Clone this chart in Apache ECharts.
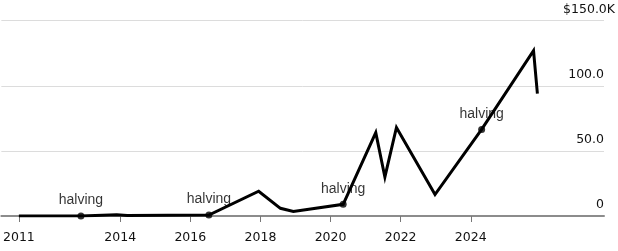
<!DOCTYPE html>
<html>
<head>
<meta charset="utf-8">
<script src="https://cdn.jsdelivr.net/npm/echarts@6/dist/echarts.min.js"></script>
<style>
html,body{margin:0;padding:0;background:#fff;}
#chart{width:618px;height:251px;}
</style>
</head>
<body>
<div id="chart"></div>
<script>
// Price line (years as decimals, values in $K)
const priceYears  = [2011.11, 2012.88, 2013.9, 2014.2, 2016.53, 2017.95, 2018.57, 2018.94, 2020.36, 2021.29, 2021.55, 2021.88, 2022.98, 2024.31, 2025.79, 2025.90];
const priceValues = [0.0,     0.0,     1.0,    0.3,    0.7,     19.0,    5.9,     3.4,     9.0,     64.0,    30.0,    68.0,    16.5,    66.5,    127.0,   94.0];

// Halving events
const halvingYears  = [2012.88, 2016.53, 2020.36, 2024.31];
const halvingValues = [0.0,     0.7,     9.0,     66.5];
const halvingLabel  = 'halving';

// Axis ticks
const xTickValues = [2011.11, 2014, 2016, 2018, 2020, 2022, 2024];
const xTickLabels = ['2011', '2014', '2016', '2018', '2020', '2022', '2024'];
const yTickValues = [0, 50, 100, 150];
const yTickLabels = ['0', '50.0', '100.0', '$150.0K'];

const chart = echarts.init(document.getElementById('chart'), null, {renderer: 'canvas'});
const FONT = '"DejaVu Sans", sans-serif';

chart.setOption({
  animation: false,
  backgroundColor: '#fff',
  grid: {left: 0, right: 13, top: 20.7, bottom: 35},
  xAxis: {
    type: 'value',
    min: 2010.61,
    max: 2027.8,
    splitLine: {show: false},
    axisLine: {show: true, lineStyle: {color: '#8c8c8c', width: 2}},
    axisTick: {show: true, customValues: xTickValues, length: 6, lineStyle: {color: '#777', width: 1}},
    axisLabel: {
      customValues: xTickValues,
      margin: 15,
      color: '#111',
      fontFamily: FONT,
      fontSize: 12.5,
      formatter: function (v) {
        const i = xTickValues.findIndex(t => Math.abs(t - v) < 1e-6);
        return i >= 0 ? xTickLabels[i] : '';
      }
    }
  },
  yAxis: {
    type: 'value',
    position: 'right',
    min: 0,
    max: 150,
    interval: 50,
    axisLine: {show: false},
    axisTick: {show: false},
    splitLine: {show: true, lineStyle: {color: '#dcdcdc', width: 1}},
    axisLabel: {
      inside: true,
      margin: -11,
      verticalAlign: 'bottom',
      formatter: function (v) {
        const i = yTickValues.indexOf(v);
        if (i < 0) return '';
        const s = yTickLabels[i];
        if (s.endsWith('K')) return '{k|' + s + '}';
        return '{n|' + s + '}';
      },
      rich: {
        n: {fontFamily: FONT, fontSize: 12.5, color: '#111', lineHeight: 14, padding: [0, 11, 8, 0]},
        k: {fontFamily: FONT, fontSize: 12.5, color: '#111', lineHeight: 14, padding: [0, 0, 8, 0]}
      }
    }
  },
  series: [
    {
      type: 'line',
      data: priceYears.map((x, i) => [x, priceValues[i]]),
      showSymbol: false,
      symbol: 'none',
      lineStyle: {color: '#000', width: 3, join: 'miter'},
      z: 3
    },
    {
      type: 'scatter',
      data: halvingYears.map((x, i) => [x, halvingValues[i]]),
      symbol: 'circle',
      symbolSize: 7,
      itemStyle: {color: '#000'},
      label: {
        show: true,
        position: 'top',
        distance: 5,
        formatter: halvingLabel,
        color: '#000',
        fontFamily: '"Liberation Sans", Arial, sans-serif',
        fontSize: 14
      },
      z: 4
    }
  ]
});
</script>
</body>
</html>
